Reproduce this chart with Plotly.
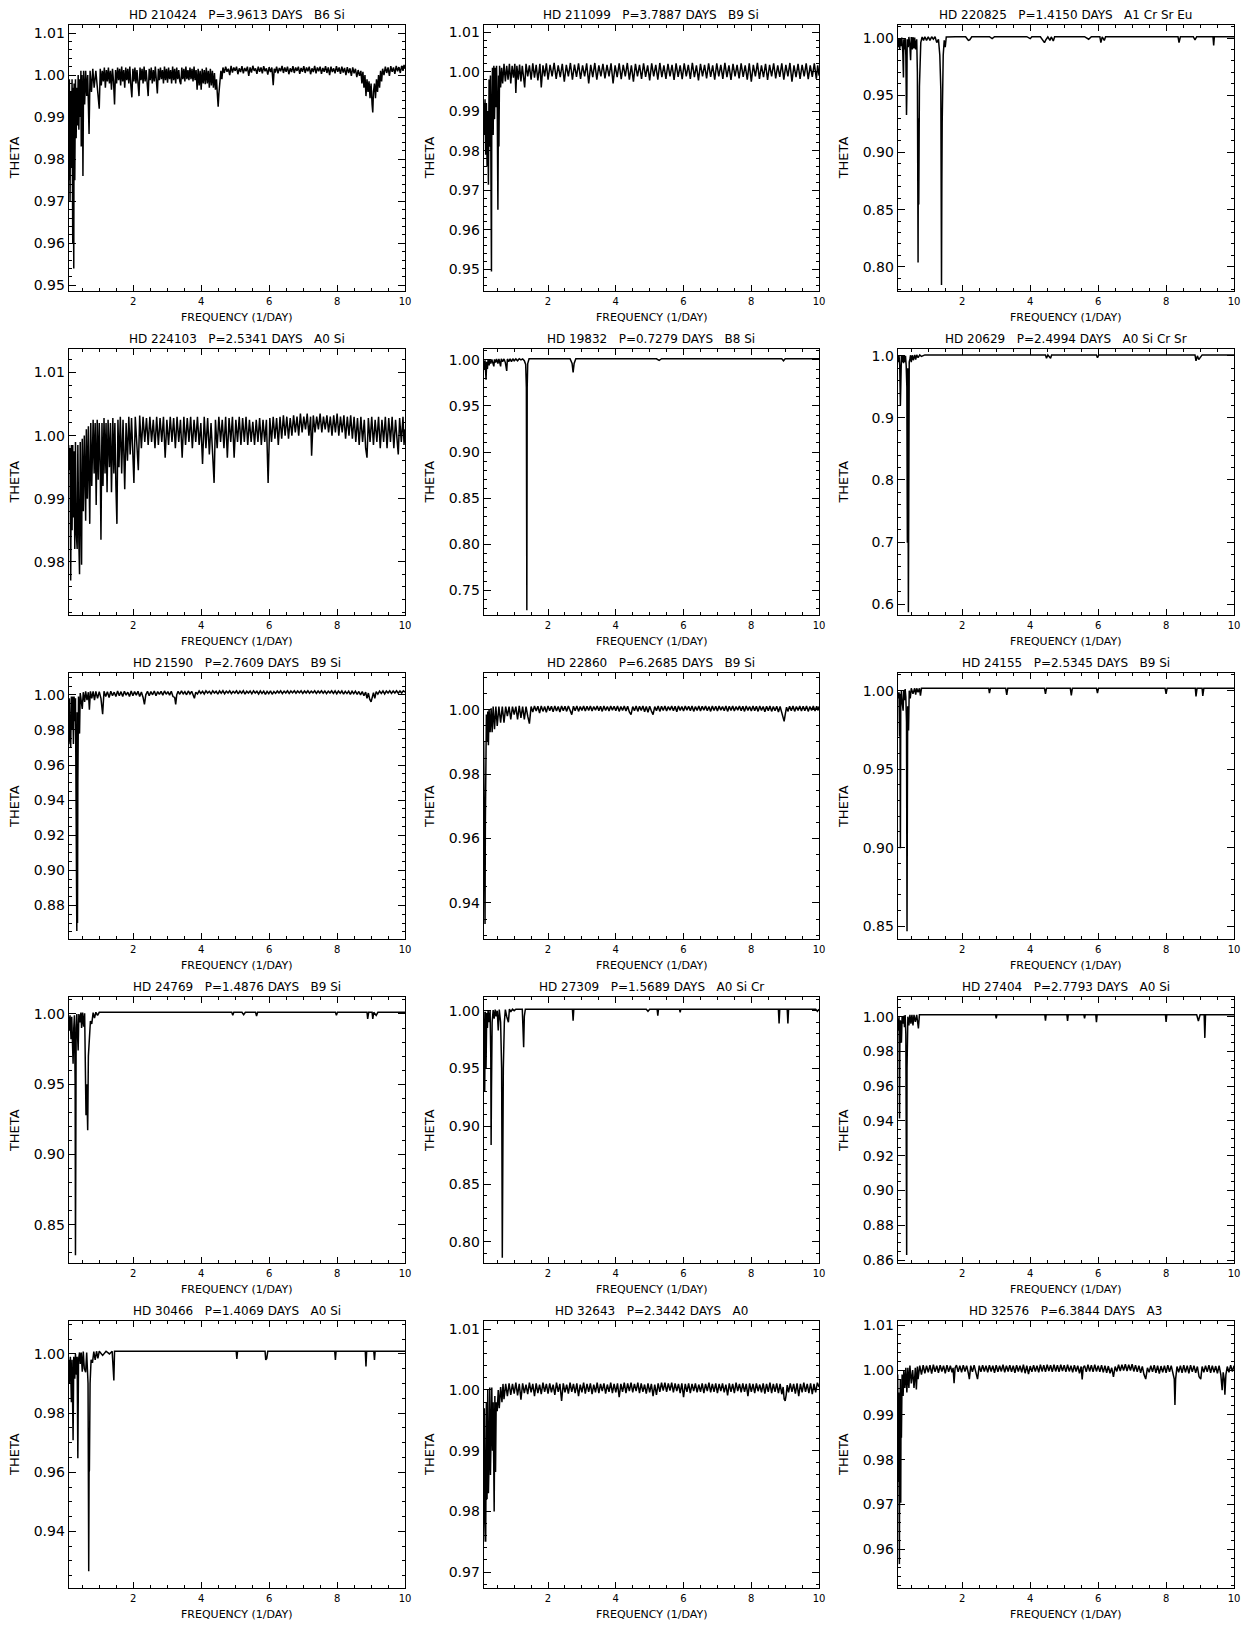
import plotly.graph_objects as go

# ---------------- data (frequency [1/day], theta) ----------------
P1 = [(0.10,0.975),(0.12,0.999),(0.14,0.970),(0.16,0.996),(0.18,0.978),(0.20,0.999),(0.22,0.960),(0.23,0.997),(0.25,0.954),(0.26,0.998),(0.28,0.975),(0.30,0.999),(0.32,0.985),(0.34,0.997),(0.36,0.988),(0.38,1.000),(0.40,0.987),(0.42,0.999),(0.44,0.990),(0.46,1.001),(0.47,0.983),(0.49,1.000),(0.51,0.992),(0.52,0.976),(0.54,1.001),(0.57,0.993),(0.60,1.001),(0.63,0.995),(0.66,1.000),(0.70,0.986),(0.73,1.001),(0.77,0.996),(0.81,1.0015),(0.85,0.997),(0.90,1.001),(0.95,0.996),
(1.00,0.992),(1.03,1.0015),(1.06,0.9975),(1.09,1.001),(1.12,0.9985),(1.15,1.0018),(1.18,0.997),(1.21,1.0012),(1.24,0.9985),(1.27,1.0018),(1.30,0.998),(1.33,1.001),(1.36,0.9965),(1.39,1.0015),(1.42,0.9985),(1.45,0.993),(1.48,1.0012),(1.51,0.998),(1.54,1.0018),(1.57,0.9988),(1.60,1.0015),(1.63,0.9975),(1.66,1.002),(1.69,0.9985),(1.72,1.0012),(1.75,0.997),(1.78,1.0018),(1.81,0.9988),(1.84,1.0015),(1.87,0.998),(1.90,1.002),(1.93,0.9975),(1.96,0.9947),(1.99,1.0015),(2.02,0.9985),(2.05,1.0018),(2.08,0.998),(2.11,1.0012),(2.14,0.9972),(2.17,0.995),(2.20,1.0018),(2.23,0.9988),(2.26,1.0015),(2.29,0.998),(2.32,1.002),(2.35,0.9985),(2.38,1.0012),(2.41,0.9975),(2.44,0.995),(2.47,1.0015),(2.50,0.9988),(2.53,1.0018),(2.56,0.998),(2.59,1.0012),(2.62,0.9985),(2.65,1.002),(2.68,0.9975),(2.71,0.9956),(2.74,1.0015),(2.77,0.9988),(2.80,1.0018),(2.83,0.999),(2.86,1.0012),(2.89,0.998),(2.92,1.002),(2.95,0.9988),(2.98,1.0015),(3.01,0.9982),(3.04,1.0018),(3.07,0.999),(3.10,1.0012),(3.13,0.998),(3.16,1.002),(3.19,0.9988),(3.22,1.0015),(3.25,0.998),(3.28,1.0018),(3.31,0.999),(3.34,1.0012),(3.37,0.9985),(3.40,0.9978),(3.43,1.0018),(3.46,0.999),(3.49,1.0015),(3.52,0.9985),(3.55,1.002),(3.58,0.999),(3.61,1.0012),(3.64,0.9988),(3.67,1.0018),(3.70,0.999),(3.73,1.0015),(3.76,0.9985),(3.79,1.002),(3.82,0.9988),(3.85,1.0012),(3.88,0.9965),(3.91,1.0015),(3.94,0.9975),(3.97,1.001),(4.00,0.9965),(4.03,1.0015),(4.06,0.998),(4.09,1.0012),(4.12,0.9978),(4.15,1.0018),(4.18,0.998),(4.21,1.001),(4.24,0.997),(4.27,1.0015),(4.30,0.9975),(4.33,1.001),(4.36,0.997),(4.39,1.0005),(4.42,0.9965),(4.45,0.999),(4.48,0.995),(4.50,0.9925),(4.52,0.9955),(4.55,0.998),(4.58,1.001),(4.61,0.999),
(4.64,1.0018),(4.68,1.0005),(4.72,1.002),(4.76,1.0008),(4.80,1.0015),(4.84,1.0),(4.88,1.0022),(4.92,1.0006),(4.96,1.0018),(5.00,1.001),(5.04,1.002),(5.08,1.0002),(5.12,1.0016),(5.16,1.0007),(5.20,1.0021),(5.24,1.0004),(5.28,1.0017),(5.32,1.0009),(5.36,1.002),(5.40,0.9998),(5.44,1.0018),(5.48,1.0006),(5.52,1.0022),(5.56,1.001),(5.60,1.0016),(5.64,1.0003),(5.68,1.002),(5.72,1.0008),(5.76,1.0018),(5.80,1.0004),(5.84,1.0021),(5.88,1.0009),(5.92,1.0016),(5.96,1.0001),(6.00,1.0019),(6.04,1.0007),(6.08,1.0018),(6.12,0.9976),(6.15,1.0015),(6.18,1.0006),(6.22,1.002),(6.26,1.0004),(6.30,1.0017),(6.34,1.0009),(6.38,1.0022),(6.42,1.0005),(6.46,1.0018),(6.50,1.0008),(6.54,1.002),(6.58,1.0002),(6.62,1.0016),(6.66,1.0007),(6.70,1.0021),(6.74,1.0005),(6.78,1.0018),(6.82,1.001),(6.86,1.002),(6.90,1.0003),(6.94,1.0017),(6.98,1.0008),(7.02,1.0021),(7.06,1.0005),(7.10,1.0018),(7.14,1.0009),(7.18,1.002),(7.22,1.0002),(7.26,1.0016),(7.30,1.0007),(7.34,1.0022),(7.38,1.0004),(7.42,1.0018),(7.46,1.0009),(7.50,1.002),(7.54,1.0003),(7.58,1.0017),(7.62,1.0008),(7.66,1.0021),(7.70,1.0005),(7.74,1.0018),(7.78,1.0),(7.82,1.002),(7.86,1.0007),(7.90,1.0016),(7.94,1.0004),(7.98,1.0021),(8.02,1.0008),(8.06,1.0018),(8.10,1.0003),(8.14,1.002),(8.18,1.0006),(8.22,1.0017),(8.26,1.0),(8.30,1.0019),(8.34,1.0005),(8.38,1.0016),(8.42,0.9998),(8.46,1.0018),(8.50,1.0004),(8.54,1.0015),(8.58,0.9995),(8.62,1.0012),(8.66,0.9998),(8.70,1.001),
(8.73,0.998),(8.76,1.0008),(8.79,0.997),(8.82,1.0),(8.85,0.995),(8.88,0.999),(8.91,0.996),(8.94,0.9985),(8.97,0.9945),(9.00,0.998),(9.03,0.993),(9.05,0.9911),(9.07,0.996),(9.10,0.998),(9.13,0.9945),(9.16,0.999),(9.19,0.996),(9.22,1.0),(9.25,0.997),(9.28,1.001),(9.31,0.9985),
(9.34,1.0015),(9.38,1.0),(9.42,1.002),(9.46,1.0005),(9.50,1.0018),(9.54,0.9998),(9.58,1.0021),(9.62,1.0008),(9.66,1.0018),(9.70,1.0003),(9.74,1.0022),(9.78,1.0009),(9.82,1.0019),(9.86,1.0005),(9.90,1.0022),(9.94,1.001),(9.97,1.0024),(10.0,1.0015)]

P2 = [(0.10,0.992),(0.12,0.984),(0.14,0.993),(0.16,0.979),(0.18,0.992),(0.20,0.976),(0.22,0.990),(0.24,0.9714),(0.26,0.998),(0.28,0.981),(0.30,0.999),(0.32,0.976),(0.33,0.9495),(0.34,0.990),(0.36,1.001),(0.38,0.984),(0.40,1.0015),(0.42,0.988),(0.44,1.001),(0.46,0.991),(0.48,1.0015),(0.50,0.992),(0.52,0.9651),(0.54,0.999),(0.55,0.9811),(0.57,1.0015),(0.60,0.996),(0.63,1.001),(0.66,0.997),
(0.70,1.002),(0.74,0.9975),(0.78,1.0015),(0.82,0.998),(0.86,1.002),(0.90,0.997),(0.94,1.0015),(0.98,0.9985),(1.02,1.002),(1.05,0.9946),(1.08,1.0015),(1.12,0.998),(1.16,1.0018),(1.20,0.9975),(1.24,1.0015),(1.28,0.9985),(1.31,0.996),(1.35,1.002),(1.40,0.9988),(1.45,1.0016),(1.50,0.998),(1.55,1.0021),(1.60,0.9985),(1.65,1.0017),(1.70,0.9978),(1.76,1.002),(1.80,0.996),(1.85,1.0016),(1.90,0.9988),(1.95,1.0021),(2.00,0.998),(2.06,1.0017),(2.12,0.9988),(2.18,1.0022),(2.24,0.9982),(2.30,1.0016),(2.36,0.9986),(2.42,1.002),(2.48,0.9975),(2.54,1.0017),(2.60,0.9988),(2.66,1.0022),(2.72,0.998),(2.78,1.0018),(2.84,0.9987),(2.90,1.0021),(2.96,0.9982),(3.02,1.0016),(3.08,0.9988),(3.14,1.0021),(3.20,0.997),(3.26,1.0017),(3.32,0.9986),(3.38,1.0022),(3.44,0.998),(3.50,1.0016),(3.56,0.9988),(3.62,1.002),(3.68,0.9983),(3.74,1.0017),(3.80,0.9988),(3.86,1.0021),(3.92,0.997),(3.98,1.0016),(4.04,0.9986),(4.10,1.0021),(4.16,0.9981),(4.22,1.0017),(4.28,0.9988),(4.34,1.0022),(4.40,0.998),(4.46,1.0016),(4.52,0.9975),(4.58,1.002),(4.64,0.9988),(4.70,1.0017),(4.76,0.9982),(4.82,1.0021),(4.88,0.9987),(4.94,1.0016),(5.00,0.9978),(5.06,1.0021),(5.12,0.9988),(5.18,1.0017),(5.24,0.998),(5.30,1.0022),(5.36,0.9986),(5.42,1.0016),(5.48,0.9982),(5.54,1.002),(5.60,0.9988),(5.66,1.0017),(5.72,0.9979),(5.78,1.0021),(5.84,0.9987),(5.90,1.0016),(5.96,0.9981),(6.02,1.0021),(6.08,0.9988),(6.14,1.0017),(6.20,0.9982),(6.26,1.0022),(6.32,0.9986),(6.38,1.0016),(6.44,0.9978),(6.50,1.002),(6.56,0.9988),(6.62,1.0017),(6.68,0.9983),(6.74,1.0021),(6.80,0.9987),(6.86,1.0016),(6.92,0.998),(6.98,1.0021),(7.04,0.9988),(7.10,1.0017),(7.16,0.9982),(7.22,1.0022),(7.28,0.9986),(7.34,1.0016),(7.40,0.9979),(7.46,1.002),(7.52,0.9988),(7.58,1.0017),(7.64,0.9983),(7.70,1.0021),(7.76,0.9987),(7.82,1.0016),(7.88,0.998),(7.94,1.0021),(8.00,0.9975),(8.06,1.0017),(8.12,0.9988),(8.18,1.0022),(8.24,0.9982),(8.30,1.0016),(8.36,0.9986),(8.42,1.002),(8.48,0.9979),(8.54,1.0017),(8.60,0.9988),(8.66,1.0021),(8.72,0.9983),(8.78,1.0016),(8.84,0.9987),(8.90,1.0021),(8.96,0.998),(9.02,1.0017),(9.08,0.9988),(9.14,1.0022),(9.20,0.9975),(9.26,1.0016),(9.32,0.9986),(9.38,1.002),(9.44,0.9982),(9.50,1.0017),(9.56,0.9988),(9.62,1.0021),(9.68,0.9981),(9.74,1.0016),(9.80,0.9987),(9.86,1.0021),(9.92,0.9982),(9.96,1.0016),(10.0,0.999)]

P3 = [(0.10,0.999),(0.12,0.992),(0.14,1.000),(0.16,0.990),(0.18,1.000),(0.20,0.993),(0.22,1.0005),(0.25,0.988),(0.27,0.9655),(0.28,0.999),(0.30,0.990),(0.32,1.000),(0.34,0.985),(0.36,0.9328),(0.37,0.950),(0.38,0.999),(0.41,0.992),(0.43,1.001),(0.46,0.993),(0.48,0.9806),(0.50,1.001),(0.53,0.990),(0.55,1.001),(0.58,0.991),(0.60,1.0005),(0.63,0.990),(0.66,0.999),(0.68,0.970),(0.70,0.8038),(0.71,0.930),(0.72,0.8545),(0.73,0.9067),(0.74,0.9574),(0.76,0.990),(0.78,0.996),(0.82,1.001),(0.86,0.998),(0.90,1.0012),(0.95,0.998),(1.00,1.0012),(1.05,0.998),(1.10,1.0012),(1.15,0.999),(1.20,1.0012),(1.25,0.996),(1.30,0.999),(1.34,0.985),(1.37,0.955),(1.39,0.784),(1.40,0.872),(1.41,0.9255),(1.42,0.960),(1.44,0.985),(1.47,0.998),(1.50,0.992),(1.53,1.001),(1.60,1.0012),(1.70,1.0012),(1.80,1.0012),(1.90,1.0012),(2.00,1.0012),(2.10,1.0012),(2.18,0.998),(2.22,0.9985),(2.28,1.0012),(2.50,1.0012),(2.80,1.0012),(2.88,0.9995),(2.95,1.0012),(3.30,1.0012),(3.60,1.0012),(3.90,1.0012),(4.00,0.9995),(4.05,1.0012),(4.30,1.0012),(4.38,0.998),(4.42,0.996),(4.46,0.9985),(4.52,1.001),(4.58,0.998),(4.62,1.001),(4.68,0.9975),(4.72,1.0012),(5.00,1.0012),(5.30,1.0012),(5.60,1.0012),(5.72,0.999),(5.80,1.0012),(6.05,1.0012),(6.08,0.996),(6.12,1.001),(6.18,0.998),(6.22,1.0012),(6.50,1.0012),(7.00,1.0012),(7.50,1.0012),(8.00,1.0012),(8.35,1.0012),(8.38,0.996),(8.42,1.0012),(8.80,1.0012),(8.85,0.9985),(8.90,1.0012),(9.10,1.0012),(9.38,1.0012),(9.40,0.9936),(9.42,1.0012),(9.70,1.0012),(10.0,1.0012)]

P4 = [(0.10,0.9985),(0.12,0.9945),(0.14,0.998),(0.16,0.977),(0.18,0.9985),(0.20,0.985),(0.22,0.9985),(0.24,0.987),(0.26,0.9975),(0.28,0.982),(0.30,0.999),(0.32,0.985),(0.35,0.982),(0.37,0.9985),(0.40,0.983),(0.42,0.978),(0.44,0.999),(0.46,0.984),(0.48,0.9795),(0.50,0.9995),(0.53,0.988),(0.56,1.000),(0.58,0.991),(0.60,0.9865),(0.62,1.001),(0.65,0.990),(0.68,1.0015),(0.70,0.993),(0.72,0.986),(0.75,1.002),(0.78,0.992),(0.82,1.0025),(0.85,0.994),(0.88,1.002),(0.91,0.989),(0.94,1.0025),(0.97,0.993),(1.00,1.002),(1.03,0.995),(1.05,0.9835),(1.08,1.002),(1.11,0.992),(1.14,1.0028),(1.17,0.994),(1.20,1.002),(1.23,0.991),(1.26,1.0025),(1.30,0.995),(1.33,1.002),(1.36,0.991),(1.40,1.0028),(1.43,0.994),(1.46,1.002),(1.49,0.992),(1.52,0.986),(1.55,1.0025),(1.58,0.995),(1.62,1.003),(1.66,0.994),(1.70,1.0025),(1.75,0.9915),(1.79,1.002),(1.83,0.996),(1.87,1.003),(1.91,0.997),(1.95,1.0028),(1.99,0.997),(2.02,0.9925),(2.06,1.003),(2.10,0.998),(2.15,0.9945),(2.19,1.0032),(2.24,0.998),(2.29,1.003),(2.34,0.999),(2.39,1.0028),(2.44,0.9985),(2.49,1.003),(2.54,0.999),(2.59,1.0025),(2.64,0.998),(2.69,1.003),(2.74,0.9985),(2.79,1.0028),(2.84,0.999),(2.89,1.003),(2.94,0.9965),(2.99,1.0025),(3.04,0.9985),(3.09,1.003),(3.14,0.999),(3.19,1.0028),(3.24,0.998),(3.29,1.003),(3.34,0.999),(3.39,1.0025),(3.44,0.9965),(3.49,1.003),(3.54,0.9985),(3.59,1.0028),(3.64,0.999),(3.69,1.003),(3.74,0.998),(3.79,1.0025),(3.84,0.999),(3.89,1.003),(3.94,0.9985),(3.99,1.002),(4.04,0.9955),(4.09,1.003),(4.14,0.998),(4.19,1.0028),(4.24,0.997),(4.29,1.002),(4.34,0.9965),(4.38,0.9925),(4.42,1.0025),(4.47,0.998),(4.52,1.003),(4.57,0.999),(4.62,1.0025),(4.67,0.998),(4.72,1.003),(4.77,0.9965),(4.82,1.0028),(4.87,0.999),(4.92,1.003),(4.97,0.9965),(5.02,1.0025),(5.07,0.999),(5.12,1.003),(5.17,0.9985),(5.22,1.0028),(5.27,0.999),(5.32,1.003),(5.37,0.9985),(5.42,1.0025),(5.47,0.999),(5.52,1.0022),(5.57,0.9985),(5.62,1.0025),(5.67,0.999),(5.72,1.0028),(5.77,0.9985),(5.82,1.0025),(5.87,0.999),(5.92,1.0025),(5.97,0.9925),(6.02,1.0028),(6.07,0.999),(6.12,1.003),(6.17,0.9995),(6.22,1.0028),(6.27,0.9985),(6.32,1.003),(6.37,0.9995),(6.42,1.0032),(6.47,1.000),(6.52,1.003),(6.57,0.9995),(6.62,1.0028),(6.67,1.000),(6.72,1.0032),(6.77,1.0005),(6.82,1.003),(6.87,1.000),(6.92,1.0035),(6.97,1.0005),(7.02,1.003),(7.07,1.001),(7.12,1.0035),(7.17,1.000),(7.22,1.003),(7.25,0.9968),(7.30,1.0032),(7.35,1.0005),(7.40,1.003),(7.45,1.001),(7.50,1.0035),(7.55,1.0005),(7.60,1.003),(7.65,1.001),(7.70,1.0032),(7.75,1.0005),(7.80,1.003),(7.85,1.000),(7.90,1.0032),(7.95,1.0005),(8.00,1.0035),(8.05,1.000),(8.10,1.003),(8.15,1.0005),(8.20,1.0032),(8.25,0.9995),(8.30,1.003),(8.35,1.000),(8.40,1.0032),(8.45,0.9995),(8.50,1.003),(8.55,0.999),(8.60,1.0028),(8.65,0.9985),(8.70,1.003),(8.75,0.999),(8.80,1.0025),(8.84,0.998),(8.88,0.9965),(8.92,1.0028),(8.97,0.999),(9.02,1.003),(9.07,0.9985),(9.12,1.0025),(9.17,0.999),(9.22,1.003),(9.27,0.998),(9.32,1.0025),(9.37,0.999),(9.42,1.003),(9.47,0.998),(9.52,1.0028),(9.57,0.999),(9.62,1.003),(9.67,0.998),(9.72,1.0025),(9.77,0.999),(9.80,0.997),(9.84,1.0028),(9.89,0.999),(9.94,1.003),(9.97,0.9985),(10.0,1.001)]

P5 = [(0.10,0.999),(0.12,0.990),(0.14,0.9995),(0.16,0.985),(0.17,0.9785),(0.19,0.998),(0.21,0.990),(0.23,1.000),(0.26,0.994),(0.28,1.000),(0.31,0.996),(0.34,1.0005),(0.37,0.995),(0.40,0.993),(0.42,1.0005),(0.45,0.997),(0.48,1.001),(0.52,0.996),(0.55,1.001),(0.58,0.994),(0.60,0.993),(0.62,1.001),(0.66,0.998),(0.70,1.001),(0.74,0.997),(0.78,0.988),(0.80,1.001),(0.84,0.998),(0.88,1.001),(0.92,0.998),(0.96,1.0012),(1.00,0.999),(1.05,1.001),(1.10,0.999),(1.15,1.0012),(1.20,1.000),(1.25,1.001),(1.30,0.999),(1.34,0.995),(1.36,0.970),(1.374,0.7284),(1.385,0.970),(1.40,0.996),(1.44,1.0012),(1.55,1.0012),(1.70,1.0012),(1.90,1.0012),(2.10,1.0012),(2.30,1.0012),(2.50,1.0012),(2.65,1.0012),(2.71,0.996),(2.74,0.9864),(2.77,0.996),(2.82,1.0012),(3.00,1.0012),(3.30,1.0012),(3.60,1.0012),(4.00,1.0012),(4.40,1.0012),(4.80,1.0012),(5.20,1.0012),(5.28,0.9995),(5.35,1.0012),(5.80,1.0012),(6.20,1.0012),(6.60,1.0012),(7.00,1.0012),(7.50,1.0012),(8.00,1.0012),(8.50,1.0012),(8.90,1.0012),(8.95,0.999),(9.00,1.0012),(9.50,1.0012),(10.0,1.0012)]

P6 = [(0.10,1.000),(0.12,0.990),(0.14,1.000),(0.16,0.985),(0.18,0.920),(0.19,0.970),(0.21,1.000),(0.23,0.990),(0.25,1.001),(0.27,0.988),(0.29,1.0005),(0.31,0.990),(0.33,1.000),(0.35,0.985),(0.37,0.950),(0.385,0.6987),(0.395,0.980),(0.405,0.800),(0.415,0.587),(0.425,0.960),(0.44,0.990),(0.46,0.995),(0.48,1.001),(0.50,0.990),(0.53,1.001),(0.56,0.993),(0.60,1.0015),(0.63,0.994),(0.66,1.0015),(0.70,0.997),(0.75,1.0015),(0.80,0.999),(0.90,1.0015),(1.20,1.0015),(1.60,1.0015),(2.00,1.0015),(2.50,1.0015),(3.00,1.0015),(3.50,1.0015),(4.00,1.0015),(4.45,1.0015),(4.48,0.996),(4.52,1.0015),(4.60,0.996),(4.63,1.0015),(5.00,1.0015),(5.50,1.0015),(5.95,1.0015),(5.98,0.997),(6.02,1.0015),(6.50,1.0015),(7.00,1.0015),(7.50,1.0015),(8.00,1.0015),(8.50,1.0015),(8.85,1.0015),(8.88,0.992),(8.92,1.000),(8.96,0.994),(9.02,0.998),(9.06,1.0015),(9.50,1.0015),(10.0,1.0015)]

P7 = [(0.10,0.972),(0.12,0.998),(0.14,0.975),(0.16,0.9703),(0.18,0.999),(0.20,0.980),(0.22,0.999),(0.24,0.972),(0.26,0.999),(0.28,0.985),(0.30,0.998),(0.32,0.950),(0.34,0.8655),(0.35,0.990),(0.36,0.870),(0.37,0.950),(0.39,0.999),(0.42,0.9779),(0.44,1.001),(0.47,0.996),(0.50,0.992),(0.53,1.0015),(0.57,0.996),(0.60,1.002),(0.64,0.997),(0.68,1.0015),(0.71,0.9915),(0.74,1.002),(0.78,0.998),(0.82,1.002),(0.86,0.997),(0.90,1.002),(0.95,0.998),(1.00,1.0018),(1.05,0.998),
(1.10,0.989),(1.14,1.002),(1.19,0.999),(1.24,1.0018),(1.29,0.9985),(1.34,1.002),(1.39,0.9995),(1.44,1.0015),(1.49,0.999),(1.54,1.0022),(1.59,0.9995),(1.64,1.0018),(1.69,0.999),(1.74,1.002),(1.79,0.9998),(1.84,1.0015),(1.89,0.999),(1.94,1.0022),(1.99,0.9995),(2.04,1.0018),(2.09,0.9998),(2.14,1.002),(2.19,0.999),(2.24,1.0016),(2.29,0.9985),(2.33,0.9945),(2.37,1.0),(2.42,1.002),(2.47,0.9995),(2.52,1.0018),(2.57,1.0),(2.62,1.0022),(2.67,0.9995),(2.72,1.0018),(2.77,1.0002),(2.82,1.002),(2.87,0.9998),(2.92,1.0022),(2.97,1.0003),(3.02,1.0018),(3.07,0.9998),(3.12,1.002),(3.17,0.999),(3.22,0.9985),(3.25,0.9945),(3.28,1.0),(3.32,1.002),(3.37,1.0003),(3.42,1.0022),(3.47,1.0005),(3.52,1.0018),(3.57,1.0),(3.62,1.0022),(3.67,1.0005),(3.72,1.002),(3.77,0.9995),(3.80,0.998),(3.84,1.0015),(3.89,1.0005),(3.94,1.0022),(3.99,1.0008),(4.04,1.002),(4.09,1.0005),(4.14,1.0023),(4.19,1.001),(4.24,1.002),(4.29,1.0006),(4.34,1.0023),(4.39,1.001),(4.44,1.002),(4.49,1.0004),(4.54,1.0022),(4.59,1.0009),(4.64,1.0023),(4.69,1.0006),(4.74,1.0021),(4.79,1.001),(4.84,1.0023),(4.89,1.0007),(4.94,1.002),(4.99,1.001),(5.04,1.0023),(5.09,1.0005),(5.14,1.0021),(5.19,1.0009),(5.24,1.0023),(5.29,1.0004),(5.34,1.002),(5.39,1.001),(5.44,1.0022),(5.49,1.0006),(5.54,1.0023),(5.59,1.001),(5.64,1.002),(5.69,1.0005),(5.74,1.0022),(5.79,1.0008),(5.84,1.0021),(5.89,1.0002),(5.94,1.002),(5.99,1.0007),(6.04,1.0022),(6.09,1.0003),(6.14,1.0019),(6.19,1.0008),(6.24,1.0022),(6.29,1.001),(6.34,1.0023),(6.39,1.0007),(6.44,1.0021),(6.49,1.001),(6.54,1.0023),(6.59,1.0008),(6.64,1.0022),(6.69,1.0011),(6.74,1.0023),(6.79,1.0009),(6.84,1.0022),(6.89,1.0011),(6.94,1.0023),(6.99,1.0008),(7.04,1.0022),(7.09,1.001),(7.14,1.0023),(7.19,1.0009),(7.24,1.0021),(7.29,1.0011),(7.34,1.0023),(7.39,1.0008),(7.44,1.0022),(7.49,1.001),(7.54,1.0023),(7.59,1.0009),(7.64,1.0022),(7.69,1.0007),(7.74,1.0021),(7.79,1.001),(7.84,1.0023),(7.89,1.0008),(7.94,1.0022),(7.99,1.0006),(8.04,1.0021),(8.09,1.0009),(8.14,1.0022),(8.19,1.0004),(8.24,1.002),(8.29,1.0007),(8.34,1.0021),(8.39,1.0002),(8.44,1.002),(8.49,1.0006),(8.54,1.0021),(8.59,1.0003),(8.64,1.0019),(8.69,1.0),(8.74,1.0018),(8.79,0.9995),(8.84,1.0015),(8.88,0.998),(8.92,1.001),(8.96,0.9975),(9.00,0.996),(9.03,0.999),(9.07,1.0012),(9.11,0.998),(9.15,1.0018),(9.20,1.0004),(9.25,1.0021),(9.30,1.0008),(9.35,1.0022),(9.40,1.0005),(9.45,1.0021),(9.50,1.001),(9.55,1.0023),(9.60,1.0008),(9.65,1.0022),(9.70,1.001),(9.75,1.0023),(9.80,1.0009),(9.85,1.0022),(9.90,1.001),(9.95,1.0023),(10.0,1.0015)]

P8 = [(0.10,0.990),(0.11,0.970),(0.12,0.975),(0.13,0.955),(0.14,0.9335),(0.15,0.965),(0.16,0.985),(0.18,0.9985),(0.20,0.990),(0.22,0.9995),(0.24,0.989),(0.26,1.000),(0.29,0.993),(0.32,1.0005),(0.35,0.993),(0.38,1.001),(0.42,0.994),(0.46,1.001),(0.50,0.995),(0.55,1.001),(0.60,0.996),(0.65,1.001),(0.70,0.996),(0.75,1.001),(0.80,0.998),(0.85,1.001),(0.90,0.997),(0.95,1.001),(1.00,0.9985),(1.05,1.001),(1.10,0.997),(1.15,1.0012),(1.20,0.9975),(1.25,1.001),(1.30,0.997),(1.35,1.001),(1.40,0.998),(1.45,0.9957),
(1.50,1.001),(1.55,0.9993),(1.60,1.0012),(1.65,0.9996),(1.70,1.0011),(1.75,0.999),(1.80,1.0012),(1.85,0.9995),(1.90,1.001),(1.95,0.9992),(2.00,1.0012),(2.05,0.9997),(2.10,1.0011),(2.15,0.9994),(2.20,1.0012),(2.25,0.9996),(2.30,1.001),(2.35,0.9993),(2.40,1.0012),(2.45,0.9997),(2.50,1.0011),(2.55,0.9995),(2.60,1.0012),(2.65,0.9996),(2.70,0.9985),(2.75,1.0011),(2.80,0.9997),(2.85,1.0012),(2.90,0.9995),(2.95,1.001),(3.00,0.9998),(3.05,1.0012),(3.10,0.9996),(3.15,1.0011),(3.20,0.9998),(3.25,1.0012),(3.30,0.9996),(3.35,1.001),(3.40,0.9999),(3.45,1.0012),(3.50,0.9997),(3.55,1.0011),(3.60,0.9995),(3.65,1.0012),(3.70,0.9998),(3.75,1.001),(3.80,0.9996),(3.85,1.0012),(3.90,0.9999),(3.95,1.0011),(4.00,0.9997),(4.05,1.0012),(4.10,0.9995),(4.15,1.001),(4.20,0.9998),(4.25,1.0012),(4.30,0.9996),(4.35,1.0011),(4.40,0.9993),(4.45,0.9985),(4.50,1.001),(4.55,0.9997),(4.60,1.0012),(4.65,0.9995),(4.70,1.0011),(4.75,0.9998),(4.80,1.0012),(4.85,0.9994),(4.90,1.001),(4.95,0.9992),(5.00,1.0011),(5.05,0.9996),(5.10,0.9985),(5.15,1.001),(5.20,0.9997),(5.25,1.0012),(5.30,0.9995),(5.35,1.0011),(5.40,0.9998),(5.45,1.0012),(5.50,0.9996),(5.55,1.001),(5.60,0.9999),(5.65,1.0012),(5.70,0.9997),(5.75,1.0011),(5.80,0.9994),(5.85,1.0012),(5.90,0.9998),(5.95,1.001),(6.00,0.9996),(6.05,1.0012),(6.10,0.9999),(6.15,1.0011),(6.20,0.9997),(6.25,1.0012),(6.30,0.9995),(6.35,1.001),(6.40,0.9998),(6.45,1.0012),(6.50,0.9996),(6.55,1.0011),(6.60,0.9999),(6.65,1.0012),(6.70,0.9997),(6.75,1.001),(6.80,0.9995),(6.85,1.0012),(6.90,0.9998),(6.95,1.0011),(7.00,0.9996),(7.05,1.0012),(7.10,0.9999),(7.15,1.001),(7.20,0.9997),(7.25,1.0012),(7.30,0.9995),(7.35,1.0011),(7.40,0.9998),(7.45,1.0012),(7.50,0.9996),(7.55,1.001),(7.60,0.9999),(7.65,1.0012),(7.70,0.9997),(7.75,1.0011),(7.80,0.9995),(7.85,1.0012),(7.90,0.9998),(7.95,1.001),(8.00,0.9996),(8.05,1.0012),(8.10,0.9997),(8.15,1.0011),(8.20,0.9995),(8.25,1.0012),(8.30,0.9998),(8.35,1.001),(8.40,0.9994),(8.45,1.0011),(8.50,0.9997),(8.55,1.0012),(8.60,0.9995),(8.65,1.001),(8.70,0.9997),(8.75,1.0011),(8.80,0.9993),(8.85,1.001),(8.90,0.999),(8.94,0.998),(8.97,0.9964),(9.00,0.9985),(9.04,1.0008),(9.08,0.9995),(9.13,1.0011),(9.18,0.9997),(9.23,1.0012),(9.28,0.9995),(9.33,1.001),(9.38,0.9998),(9.43,1.0012),(9.48,0.9996),(9.53,1.0011),(9.58,0.9997),(9.63,1.0012),(9.68,0.9995),(9.73,1.001),(9.78,0.9998),(9.83,1.0012),(9.88,0.9996),(9.93,1.0011),(9.97,0.9998),(10.0,1.001)]

P9 = [(0.10,0.999),(0.12,0.995),(0.14,0.999),(0.155,0.971),(0.165,0.998),(0.18,0.8996),(0.19,0.990),(0.21,1.000),(0.23,0.993),(0.26,0.9873),(0.28,1.000),(0.30,0.994),(0.32,1.001),(0.34,0.996),(0.36,0.980),(0.375,0.8468),(0.385,0.927),(0.395,0.990),(0.42,0.9746),(0.44,1.000),(0.47,0.995),(0.50,1.0015),(0.55,0.998),(0.60,1.0015),(0.63,0.9975),(0.66,1.0015),(0.70,0.999),(0.74,1.0015),(0.77,0.9968),(0.80,1.0015),(1.00,1.0015),(1.50,1.0015),(2.00,1.0015),(2.50,1.0015),(2.78,1.0015),(2.80,0.9985),(2.83,1.0015),(3.28,1.0015),(3.31,0.9973),(3.34,1.0015),(4.00,1.0015),(4.42,1.0015),(4.45,0.998),(4.48,1.0015),(5.18,1.0015),(5.21,0.997),(5.24,1.0015),(5.95,1.0015),(5.98,0.9985),(6.01,1.0015),(6.50,1.0015),(7.00,1.0015),(7.50,1.0015),(7.97,1.0015),(8.00,0.998),(8.03,1.0015),(8.50,1.0015),(8.86,1.0015),(8.88,0.9964),(8.91,1.0015),(9.06,1.0015),(9.08,0.9966),(9.11,1.0015),(9.50,1.0015),(10.0,1.0015)]

P10 = [(0.10,0.998),(0.12,0.988),(0.14,0.999),(0.17,0.982),(0.19,0.998),(0.21,0.975),(0.23,0.9646),(0.25,0.990),(0.27,0.999),(0.29,0.950),(0.30,0.8283),(0.31,0.9008),(0.32,0.990),(0.34,1.000),(0.36,0.985),(0.38,0.974),(0.40,1.000),(0.43,0.994),(0.46,1.001),(0.48,0.990),(0.51,1.001),(0.54,0.991),(0.57,1.0005),(0.59,0.960),(0.61,0.928),(0.63,0.950),(0.66,0.9173),(0.68,0.970),(0.71,0.980),(0.74,0.995),(0.78,0.993),(0.82,1.001),(0.86,0.997),(0.90,1.0012),(0.95,0.999),(1.00,1.0012),(1.10,1.0012),(1.30,1.0012),(1.60,1.0012),(2.00,1.0012),(2.50,1.0012),(3.00,1.0012),(3.50,1.0012),(4.00,1.0012),(4.50,1.0012),(4.90,1.0012),(4.93,0.999),(4.96,1.0012),(5.20,1.0012),(5.25,0.9995),(5.30,1.0012),(5.60,1.0012),(5.63,0.9985),(5.66,1.0012),(6.00,1.0012),(6.50,1.0012),(7.00,1.0012),(7.50,1.0012),(7.95,1.0012),(7.98,0.999),(8.01,1.0012),(8.50,1.0012),(8.88,1.0012),(8.90,0.9965),(8.93,1.0012),(9.03,1.0012),(9.05,0.9965),(9.08,1.0012),(9.15,0.999),(9.20,1.0012),(9.60,1.0012),(10.0,1.0012)]

P11 = [(0.10,0.999),(0.11,0.970),(0.12,0.995),(0.13,0.930),(0.14,0.970),(0.15,0.999),(0.17,0.950),(0.19,0.998),(0.21,0.985),(0.23,1.0005),(0.26,0.990),(0.29,1.000),(0.31,0.960),(0.32,0.8838),(0.33,0.9297),(0.35,0.990),(0.38,1.0005),(0.41,0.993),(0.44,1.001),(0.47,0.995),(0.50,1.000),(0.53,0.9828),(0.56,1.001),(0.60,0.990),(0.63,0.950),(0.65,0.7862),(0.66,0.8694),(0.68,0.950),(0.71,0.990),(0.74,1.001),(0.78,0.995),(0.83,0.990),(0.86,1.0013),(0.90,0.999),(0.95,1.0013),(1.00,1.000),(1.05,1.0013),(1.15,1.0013),(1.24,1.0013),(1.26,0.985),(1.28,0.9684),(1.30,0.995),(1.33,1.0013),(1.60,1.0013),(2.00,1.0013),(2.50,1.0013),(2.72,1.0013),(2.74,0.9914),(2.76,1.0013),(3.20,1.0013),(3.60,1.0013),(4.00,1.0013),(4.50,1.0013),(4.90,1.0013),(4.95,0.9995),(5.00,1.0013),(5.22,1.0013),(5.24,0.9957),(5.26,1.0013),(5.50,1.0013),(5.88,1.0013),(5.90,0.9986),(5.92,1.0013),(6.40,1.0013),(7.00,1.0013),(7.50,1.0013),(8.00,1.0013),(8.50,1.0013),(8.80,1.0013),(8.82,0.989),(8.84,1.0013),(9.06,1.0013),(9.08,0.989),(9.10,1.0013),(9.50,1.0013),(9.90,1.0013),(9.95,0.9995),(10.0,1.0013)]

P12 = [(0.10,0.999),(0.12,0.992),(0.14,1.000),(0.155,0.9414),(0.165,0.990),(0.18,0.998),(0.21,0.985),(0.23,1.000),(0.26,0.996),(0.28,1.0005),(0.30,0.994),(0.32,1.001),(0.34,0.990),(0.355,0.8747),(0.365,0.8629),(0.375,0.970),(0.38,0.9825),(0.40,1.000),(0.43,0.995),(0.46,1.001),(0.49,0.996),(0.52,1.001),(0.55,0.995),(0.58,1.001),(0.62,0.997),(0.66,1.001),(0.71,0.9933),(0.74,1.0011),(0.80,1.0011),(0.90,1.0011),(1.20,1.0011),(1.60,1.0011),(2.00,1.0011),(2.50,1.0011),(2.98,1.0011),(3.00,0.999),(3.02,1.0011),(3.50,1.0011),(4.00,1.0011),(4.43,1.0011),(4.45,0.9977),(4.47,1.0011),(5.08,1.0011),(5.10,0.9975),(5.12,1.0011),(5.58,1.0011),(5.60,0.999),(5.62,1.0011),(5.93,1.0011),(5.95,0.9968),(5.97,1.0011),(6.50,1.0011),(7.00,1.0011),(7.50,1.0011),(7.98,1.0011),(8.00,0.997),(8.02,1.0011),(8.50,1.0011),(8.90,1.0011),(8.95,0.9975),(9.00,1.0011),(9.12,1.0011),(9.14,0.9878),(9.16,1.0011),(9.60,1.0011),(10.0,1.0011)]

P13 = [(0.10,0.998),(0.12,0.990),(0.13,0.995),(0.15,0.999),(0.18,0.9837),(0.20,0.998),(0.23,0.9708),(0.25,0.999),(0.28,0.9916),(0.30,1.000),(0.33,0.993),(0.35,0.999),(0.37,0.9647),(0.39,0.998),(0.42,1.0005),(0.44,0.9966),(0.47,1.0005),(0.50,0.994),(0.53,1.0008),(0.56,0.995),(0.60,0.9938),(0.63,1.0005),(0.67,0.990),(0.69,0.9265),(0.70,0.960),(0.71,0.9607),(0.73,0.990),(0.76,0.998),(0.80,0.997),(0.84,1.0008),(0.88,0.998),(0.92,1.0009),(0.96,0.9985),(1.00,1.0009),(1.10,0.9995),(1.20,1.0009),(1.30,1.000),(1.38,1.0009),(1.41,0.995),(1.43,0.991),(1.45,1.0009),(1.60,1.0009),(1.80,1.0009),(2.20,1.0009),(2.60,1.0009),(3.00,1.0009),(3.40,1.0009),(3.80,1.0009),(4.20,1.0009),(4.60,1.0009),(5.03,1.0009),(5.05,0.9983),(5.07,1.0009),(5.50,1.0009),(5.88,1.0009),(5.90,0.998),(5.93,0.9985),(5.96,1.0009),(6.50,1.0009),(7.00,1.0009),(7.50,1.0009),(7.93,1.0009),(7.95,0.998),(7.97,1.0009),(8.40,1.0009),(8.83,1.0009),(8.85,0.9958),(8.87,1.0009),(9.08,1.0009),(9.10,0.998),(9.12,1.0009),(9.60,1.0009),(10.0,1.0009)]

P14 = [(0.10,0.975),(0.12,0.997),(0.14,0.980),(0.16,0.975),(0.18,0.998),(0.20,0.982),(0.22,1.000),(0.24,0.983),(0.26,0.9884),(0.28,1.0004),(0.30,0.986),(0.32,0.999),(0.34,1.0004),(0.36,0.990),(0.38,0.998),(0.41,0.980),(0.43,0.999),(0.45,0.9865),(0.47,0.998),(0.50,0.9965),(0.53,1.000),(0.56,0.997),(0.60,1.0005),(0.64,0.998),(0.67,1.001),
(0.70,0.9985),(0.75,1.001),(0.80,0.9990),(0.85,1.0011),(0.90,0.9992),(0.95,1.001),(1.00,0.9994),(1.05,1.0012),(1.10,0.9991),(1.15,1.001),(1.20,0.9984),(1.25,1.0011),(1.30,0.9995),(1.35,1.0009),(1.40,0.9993),(1.45,1.0012),(1.50,0.9996),(1.55,1.001),(1.60,0.999),(1.65,1.0011),(1.70,0.9995),(1.75,1.0009),(1.80,0.9993),(1.85,1.0012),(1.90,0.9997),(1.95,1.001),(2.00,0.9994),(2.05,1.0011),(2.10,0.9996),(2.15,1.0009),(2.20,0.9992),(2.25,1.0012),(2.30,0.9997),(2.35,1.001),(2.40,0.9982),(2.45,1.0011),(2.50,0.9996),(2.55,1.0009),(2.60,0.9994),(2.65,1.0012),(2.70,0.9997),(2.75,1.001),(2.80,0.9995),(2.85,1.0011),(2.90,0.999),(2.95,1.0009),(3.00,0.9996),(3.05,1.0012),(3.10,0.9994),(3.15,1.001),(3.20,0.9997),(3.25,1.0011),(3.30,0.9993),(3.35,1.0009),(3.40,0.9996),(3.45,1.0012),(3.50,0.9995),(3.55,1.001),(3.60,0.9998),(3.65,1.0011),(3.70,0.9994),(3.75,1.0009),(3.80,0.9997),(3.85,1.0012),(3.90,0.9995),(3.95,1.001),(4.00,0.9996),(4.05,1.0011),(4.10,0.9988),(4.15,1.001),(4.20,0.9997),(4.25,1.0012),(4.30,0.9995),(4.35,1.0011),(4.40,0.9998),(4.45,1.0012),(4.50,0.9996),(4.55,1.001),(4.60,0.9998),(4.65,1.0012),(4.70,0.9995),(4.75,1.0011),(4.80,0.9997),(4.85,1.0009),(4.90,0.9994),(4.95,1.0011),(5.00,0.9996),(5.05,1.001),(5.10,0.999),(5.15,1.0009),(5.20,0.9992),(5.25,1.0011),(5.30,0.9997),(5.35,1.0012),(5.40,0.9999),(5.45,1.0012),(5.50,0.9997),(5.55,1.0011),(5.60,0.9999),(5.65,1.0012),(5.70,0.9996),(5.75,1.0011),(5.80,0.9998),(5.85,1.001),(5.90,0.9995),(5.95,1.0011),(6.00,0.9988),(6.05,1.001),(6.10,0.9997),(6.15,1.0011),(6.20,0.9995),(6.25,1.001),(6.30,0.9998),(6.35,1.0011),(6.40,0.9996),(6.45,1.0009),(6.50,0.9997),(6.55,1.0011),(6.60,0.9995),(6.65,1.001),(6.70,0.9998),(6.75,1.0012),(6.80,0.9996),(6.85,1.001),(6.90,0.9997),(6.95,1.0011),(7.00,0.9995),(7.05,1.001),(7.10,0.9998),(7.15,1.0011),(7.20,0.9996),(7.25,1.0009),(7.30,0.9991),(7.35,1.0011),(7.40,0.9997),(7.45,1.001),(7.50,0.9995),(7.55,1.0012),(7.60,0.9998),(7.65,1.001),(7.70,0.9996),(7.75,1.0011),(7.80,0.9997),(7.85,1.001),(7.90,0.999),(7.95,1.0011),(8.00,0.9997),(8.05,1.001),(8.10,0.9995),(8.15,1.0011),(8.20,0.9998),(8.25,1.0009),(8.30,0.9996),(8.35,1.0011),(8.40,0.9994),(8.45,1.001),(8.50,0.9997),(8.55,1.0012),(8.60,0.9995),(8.65,1.001),(8.70,0.9997),(8.75,1.0011),(8.80,0.9995),(8.85,1.001),(8.90,0.9993),(8.94,1.0005),(8.97,0.9985),(9.00,0.9982),(9.03,0.9992),(9.06,1.0008),(9.10,0.9996),(9.15,1.0011),(9.20,0.9997),(9.25,1.001),(9.30,0.9994),(9.35,1.0011),(9.40,0.999),(9.45,1.001),(9.50,0.9996),(9.55,1.0012),(9.60,0.9997),(9.65,1.001),(9.70,0.9995),(9.75,1.0011),(9.80,0.9993),(9.85,1.001),(9.90,0.9996),(9.95,1.0012),(10.0,1.0005)]

P15 = [(0.10,0.999),(0.12,0.975),(0.13,0.995),(0.15,0.9567),(0.16,0.985),(0.18,0.998),(0.19,0.9704),(0.20,0.995),(0.21,0.9849),(0.23,0.999),(0.26,0.9942),(0.28,1.000),(0.31,0.996),(0.34,1.0005),(0.37,0.995),(0.40,1.0005),(0.43,0.996),(0.46,1.001),(0.50,0.997),(0.54,1.000),(0.58,0.996),(0.62,1.0005),(0.65,0.9957),(0.68,1.0008),
(0.70,0.998),(0.75,1.001),(0.80,0.999),(0.85,1.0011),(0.90,0.9993),(0.95,1.001),(1.00,0.9995),(1.05,1.0011),(1.10,0.9992),(1.15,1.0012),(1.20,0.9996),(1.25,1.001),(1.30,0.9994),(1.35,1.0011),(1.40,0.9997),(1.45,1.001),(1.50,0.9993),(1.55,1.0011),(1.60,0.9996),(1.65,1.001),(1.70,0.9995),(1.73,1.0005),(1.76,0.9971),(1.79,1.0005),(1.83,1.0011),(1.88,0.9996),(1.93,1.001),(1.98,0.9995),(2.03,1.0011),(2.08,0.9997),(2.13,1.001),(2.18,0.9993),(2.21,0.998),(2.25,1.001),(2.30,0.9996),(2.35,1.0011),(2.40,0.9994),(2.45,0.998),(2.50,1.001),(2.55,0.9996),(2.60,1.0011),(2.65,0.9997),(2.70,1.001),(2.75,0.9995),(2.80,1.0011),(2.85,0.9997),(2.90,1.001),(2.95,0.9994),(3.00,1.0011),(3.05,0.9996),(3.10,1.001),(3.15,0.9997),(3.20,1.0012),(3.25,0.9995),(3.30,1.001),(3.35,0.9997),(3.40,1.0011),(3.45,0.9996),(3.50,1.001),(3.55,0.9994),(3.60,1.0011),(3.65,0.9997),(3.70,1.001),(3.75,0.9995),(3.80,1.0012),(3.85,0.9993),(3.90,1.001),(3.95,0.9991),(4.00,1.0009),(4.05,0.9996),(4.10,1.0011),(4.15,0.9997),(4.20,1.001),(4.25,0.9995),(4.30,1.0012),(4.35,0.9997),(4.40,1.0011),(4.45,0.9996),(4.50,1.0012),(4.55,0.9998),(4.60,1.0011),(4.65,0.9996),(4.70,1.0012),(4.75,0.9997),(4.80,1.0011),(4.85,0.9996),(4.90,1.0012),(4.95,0.9998),(5.00,1.0011),(5.05,0.9996),(5.10,1.0012),(5.15,0.9997),(5.20,1.001),(5.25,0.9995),(5.30,1.0011),(5.35,0.9997),(5.40,1.001),(5.45,0.9993),(5.50,1.0008),(5.53,0.9979),(5.56,1.0005),(5.60,1.001),(5.65,0.9996),(5.70,1.0012),(5.75,0.9997),(5.80,1.0011),(5.85,0.9996),(5.90,1.0012),(5.95,0.9997),(6.00,1.001),(6.05,0.9996),(6.10,1.0011),(6.15,0.9995),(6.20,1.001),(6.25,0.9994),(6.30,1.0009),(6.35,0.9993),(6.40,1.0005),(6.45,0.9985),(6.50,1.0008),(6.55,0.9997),(6.60,1.0012),(6.65,0.9998),(6.70,1.0012),(6.75,0.9999),(6.80,1.0013),(6.85,0.9998),(6.90,1.0012),(6.95,0.9999),(7.00,1.0013),(7.05,0.9997),(7.10,1.0011),(7.15,0.9996),(7.20,1.001),(7.25,0.9994),(7.30,1.0008),(7.35,0.999),(7.40,0.998),(7.45,1.0005),(7.50,0.9995),(7.55,1.001),(7.60,0.9996),(7.65,1.0011),(7.70,0.9994),(7.75,1.001),(7.80,0.9992),(7.85,1.0009),(7.90,0.9995),(7.95,1.001),(8.00,0.9994),(8.05,1.0011),(8.10,0.9996),(8.15,1.001),(8.20,0.9995),(8.24,0.998),(8.26,0.9922),(8.28,0.998),(8.32,1.0008),(8.37,0.9995),(8.42,1.001),(8.47,0.9994),(8.52,1.0011),(8.57,0.9995),(8.62,1.001),(8.67,0.9993),(8.72,1.0011),(8.77,0.9996),(8.82,1.001),(8.87,0.9994),(8.92,1.0008),(8.97,0.9985),(9.02,0.998),(9.06,1.0008),(9.11,0.9995),(9.16,1.001),(9.21,0.9996),(9.26,1.0011),(9.31,0.9994),(9.36,1.001),(9.41,0.9995),(9.46,1.0009),(9.51,0.9993),(9.56,1.001),(9.61,0.999),(9.65,0.9955),(9.68,0.9995),(9.71,0.998),(9.73,0.9945),(9.76,0.999),(9.80,1.0008),(9.85,0.9995),(9.90,1.0011),(9.95,0.9997),(10.0,1.001)]

PANELS = [P1, P2, P3, P4, P5, P6, P7, P8, P9, P10, P11, P12, P13, P14, P15]

TITLES = [
    "HD 210424   P=3.9613 DAYS   B6 Si",
    "HD 211099   P=3.7887 DAYS   B9 Si",
    "HD 220825   P=1.4150 DAYS   A1 Cr Sr Eu",
    "HD 224103   P=2.5341 DAYS   A0 Si",
    "HD 19832   P=0.7279 DAYS   B8 Si",
    "HD 20629   P=2.4994 DAYS   A0 Si Cr Sr",
    "HD 21590   P=2.7609 DAYS   B9 Si",
    "HD 22860   P=6.2685 DAYS   B9 Si",
    "HD 24155   P=2.5345 DAYS   B9 Si",
    "HD 24769   P=1.4876 DAYS   B9 Si",
    "HD 27309   P=1.5689 DAYS   A0 Si Cr",
    "HD 27404   P=2.7793 DAYS   A0 Si",
    "HD 30466   P=1.4069 DAYS   A0 Si",
    "HD 32643   P=2.3442 DAYS   A0",
    "HD 32576   P=6.3844 DAYS   A3",
]

X_TITLE = "FREQUENCY (1/DAY)"
Y_TITLE = "THETA"
X_RANGE = [0.1, 10.0]

# axis settings: (ymin, ymax, major step, minor step, format)
Y_AXES = [
    (0.9487, 1.0120, 0.01, 0.002, ".2f"),
    (0.9446, 1.0119, 0.01, 0.002, ".2f"),
    (0.7790, 1.0118, 0.05, 0.01, ".2f"),
    (0.9715, 1.0138, 0.01, 0.002, ".2f"),
    (0.7230, 1.0122, 0.05, 0.01, ".2f"),
    (0.5820, 1.0117, 0.1, 0.02, ".1f"),
    (0.8607, 1.0122, 0.02, 0.005, ".2f"),
    (0.9287, 1.0113, 0.02, 0.005, ".2f"),
    (0.8416, 1.0110, 0.05, 0.01, ".2f"),
    (0.8224, 1.0118, 0.05, 0.01, ".2f"),
    (0.7813, 1.0115, 0.05, 0.01, ".2f"),
    (0.8580, 1.0111, 0.02, 0.005, ".2f"),
    (0.9209, 1.0112, 0.02, 0.005, ".2f"),
    (0.9674, 1.0114, 0.01, 0.002, ".2f"),
    (0.9514, 1.0110, 0.01, 0.002, ".2f"),
]

# ---------------- layout geometry ----------------
W, H = 1253, 1627
COLS = [(69, 407), (486, 823), (902, 1240)]
ROWS = [(20.7, 288.2), (346.3, 614.3), (672.7, 940.0), (998.3, 1265.7), (1323.3, 1591.7)]
FONT = "DejaVu Sans"

fig = go.Figure()
annotations = []
layout = {}
for i, pts in enumerate(PANELS):
    r, c = divmod(i, 3)
    k = i + 1
    xs = [p[0] for p in pts]
    ys = [p[1] for p in pts]
    fig.add_trace(go.Scatter(x=xs, y=ys, mode="lines",
                             line=dict(color="black", width=1.5),
                             xaxis=f"x{k}", yaxis=f"y{k}", showlegend=False,
                             hoverinfo="skip"))
    x0, x1 = COLS[c][0] / W, COLS[c][1] / W
    ytop, ybot = 1 - ROWS[r][0] / H, 1 - ROWS[r][1] / H
    ymin, ymax, dt, mdt, fmt = Y_AXES[i]
    common = dict(showline=True, linecolor="black", linewidth=1, mirror="ticks",
                  ticks="inside", tickcolor="black", tickwidth=1,
                  showgrid=False, zeroline=False)
    layout[f"xaxis{k}"] = dict(domain=[x0, x1], anchor=f"y{k}", range=X_RANGE,
                               tick0=0, dtick=2, ticklen=6,
                               tickfont=dict(family=FONT, size=10, color="black"),
                               ticklabelstandoff=1,
                               minor=dict(ticks="inside", dtick=0.5, ticklen=3,
                                          tickcolor="black", tickwidth=1, showgrid=False),
                               **common)
    layout[f"yaxis{k}"] = dict(domain=[ybot, ytop], anchor=f"x{k}", range=[ymin, ymax],
                               tick0=1.0, dtick=dt, ticklen=7, tickformat=fmt,
                               tickfont=dict(family=FONT, size=14, color="black"),
                               minor=dict(ticks="inside", dtick=mdt, tick0=1.0, ticklen=3,
                                          tickcolor="black", tickwidth=1, showgrid=False),
                               **common)
    xc = (x0 + x1) / 2
    annotations.append(dict(text=TITLES[i].replace(" ", "\u00a0"), x=xc, y=ytop,
                            xref="paper", yref="paper", xanchor="center", yanchor="middle",
                            yshift=10, showarrow=False,
                            font=dict(family=FONT, size=12, color="black")))
    annotations.append(dict(text=X_TITLE, x=xc, y=ybot, xref="paper", yref="paper",
                            xanchor="center", yanchor="middle", yshift=-26.5, showarrow=False,
                            font=dict(family=FONT, size=11, color="black")))
    annotations.append(dict(text=Y_TITLE, x=x0, y=(ytop + ybot) / 2, xref="paper", yref="paper",
                            xanchor="center", yanchor="middle", xshift=-54, textangle=-90,
                            showarrow=False, font=dict(family=FONT, size=13, color="black")))

fig.update_layout(width=W, height=H, margin=dict(l=0, r=0, t=0, b=0),
                  paper_bgcolor="white", plot_bgcolor="white",
                  annotations=annotations, **layout)

fig.write_html("out.html")
